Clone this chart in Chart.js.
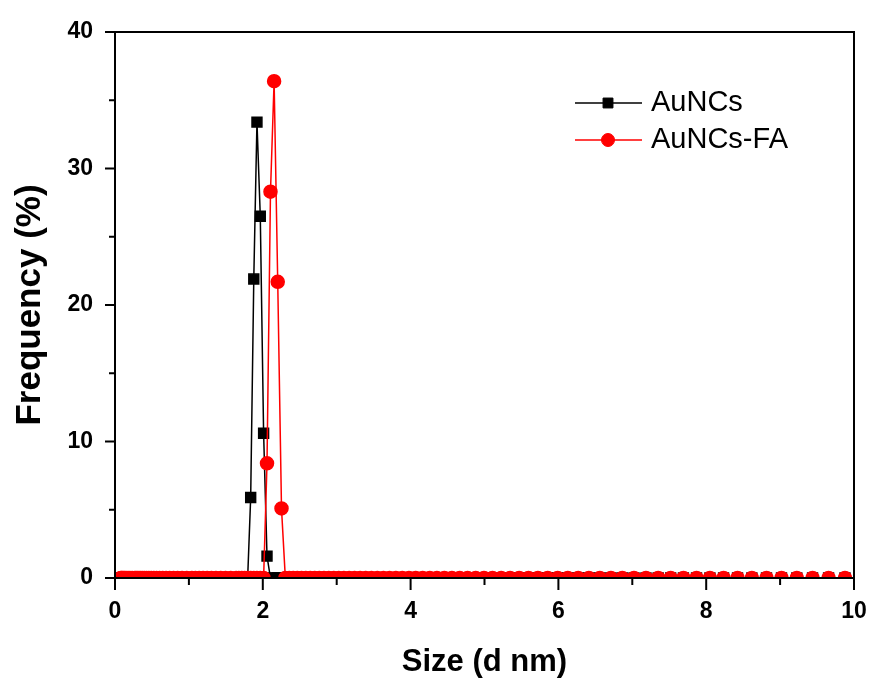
<!DOCTYPE html>
<html>
<head>
<meta charset="utf-8">
<script src="https://cdn.jsdelivr.net/npm/chart.js@4.4.0/dist/chart.umd.min.js"></script>
<style>
  html, body { margin: 0; padding: 0; background: #fff; }
  canvas { display: block; }
</style>
</head>
<body>
<canvas id="dls" width="881" height="684"></canvas>
<script>
// size bins (d nm)
var sizes = [0.078, 0.089, 0.102, 0.117, 0.134, 0.154, 0.177, 0.202, 0.232, 0.266,
    0.285, 0.305, 0.326, 0.349, 0.374, 0.400, 0.428, 0.459, 0.491, 0.526,
    0.563, 0.603, 0.645, 0.691, 0.739, 0.792, 0.847, 0.907, 0.971, 1.040,
    1.088, 1.139, 1.192, 1.247, 1.305, 1.366, 1.430, 1.496, 1.566, 1.639,
    1.676, 1.715, 1.754, 1.795, 1.836, 1.878, 1.921, 1.966, 2.011, 2.057,
    2.104, 2.153, 2.202, 2.253, 2.305, 2.358, 2.412, 2.467, 2.524, 2.582,
    2.642, 2.702, 2.765, 2.828, 2.893, 2.960, 3.028, 3.097, 3.169, 3.242,
    3.316, 3.392, 3.470, 3.550, 3.632, 3.715, 3.801, 3.888, 3.978, 4.069,
    4.163, 4.259, 4.356, 4.457, 4.559, 4.664, 4.771, 4.881, 4.993, 5.108,
    5.226, 5.346, 5.469, 5.595, 5.723, 5.855, 5.990, 6.127, 6.268, 6.412,
    6.560, 6.711, 6.865, 7.023, 7.185, 7.350, 7.519, 7.692, 7.869, 8.050,
    8.235, 8.424, 8.618, 8.816, 9.019, 9.226, 9.439, 9.656, 9.878, 10.105];

// non-zero frequencies (%), everything else is 0
var auncsSizes = [1.836, 1.878, 1.921, 1.966, 2.011, 2.057];
var auncsFreq = [5.9, 21.9, 33.4, 26.5, 10.6, 1.6];
var faSizes = [2.057, 2.104, 2.153, 2.202, 2.253];
var faFreq = [8.4, 28.3, 36.4, 21.7, 5.1];

var xMajor = [0, 2, 4, 6, 8, 10];
var xMinor = [1, 3, 5, 7, 9];
var yMajor = [0, 10, 20, 30, 40];
var yMinor = [5, 15, 25, 35];

function buildSeries(peakSizes, peakFreq) {
    var pts = [];
    sizes.forEach(function (s) {
        var i = peakSizes.indexOf(s);
        pts.push({ x: s, y: i >= 0 ? peakFreq[i] : 0 });
    });
    return pts;
}

var FONT = "'Liberation Sans', Arial, sans-serif";

// box frame, outward ticks and the legend inside the plot
var frameAndLegend = {
    id: 'frameAndLegend',
    afterDraw: function (chart) {
        var ctx = chart.ctx;
        var a = chart.chartArea;
        var x = chart.scales.x, y = chart.scales.y;
        ctx.save();
        ctx.strokeStyle = '#000';
        ctx.lineWidth = 2;
        ctx.strokeRect(a.left, a.top, a.right - a.left, a.bottom - a.top);
        ctx.beginPath();
        xMajor.forEach(function (v) { var p = x.getPixelForValue(v); ctx.moveTo(p, a.bottom); ctx.lineTo(p, a.bottom + 12); });
        xMinor.forEach(function (v) { var p = x.getPixelForValue(v); ctx.moveTo(p, a.bottom); ctx.lineTo(p, a.bottom + 7); });
        yMajor.forEach(function (v) { var p = y.getPixelForValue(v); ctx.moveTo(a.left, p); ctx.lineTo(a.left - 10, p); });
        yMinor.forEach(function (v) { var p = y.getPixelForValue(v); ctx.moveTo(a.left, p); ctx.lineTo(a.left - 6, p); });
        ctx.stroke();

        // legend
        var lx = a.right - 279, ly = a.top + 71;
        chart.data.datasets.forEach(function (ds, i) {
            var yy = ly + i * 37;
            ctx.strokeStyle = ds.borderColor;
            ctx.lineWidth = 1.5;
            ctx.beginPath();
            ctx.moveTo(lx, yy);
            ctx.lineTo(lx + 67, yy);
            ctx.stroke();
            ctx.fillStyle = ds.pointBackgroundColor;
            ctx.strokeStyle = ds.pointBorderColor;
            ctx.lineWidth = 1;
            Chart.helpers.drawPoint(ctx, {
                pointStyle: ds.pointStyle, radius: ds.pointRadius, borderWidth: 1
            }, lx + 33, yy);
            ctx.fillStyle = '#000';
            ctx.font = '29px ' + FONT;
            ctx.textBaseline = 'middle';
            ctx.textAlign = 'left';
            ctx.fillText(ds.label, lx + 76, yy);
        });
        ctx.restore();
    }
};

// invisible tick marks only push the labels away from the axis
var hiddenGrid = function (len) {
    return {
        display: true,
        drawOnChartArea: false,
        drawTicks: true,
        tickLength: len,
        tickColor: 'rgba(0,0,0,0)'
    };
};

var myChart = document.getElementById('dls').getContext('2d');
var chart = new Chart(myChart, {
    type: 'line',
    data: {
        datasets: [
            {
                label: 'AuNCs',
                data: buildSeries(auncsSizes, auncsFreq),
                borderColor: '#000000',
                backgroundColor: '#000000',
                pointBackgroundColor: '#000000',
                pointBorderColor: '#000000',
                pointStyle: 'rect',
                pointRadius: 7,
                borderWidth: 1.5,
                order: 1
            },
            {
                label: 'AuNCs-FA',
                data: buildSeries(faSizes, faFreq),
                borderColor: '#ff0000',
                backgroundColor: '#ff0000',
                pointBackgroundColor: '#ff0000',
                pointBorderColor: '#ff0000',
                pointStyle: 'circle',
                pointRadius: 6.5,
                borderWidth: 1.5,
                order: 0
            }
        ]
    },
    options: {
        responsive: false,
        animation: false,
        devicePixelRatio: 1,
        clip: 0,
        layout: { padding: { left: 0, top: 32, right: 27, bottom: 0 } },
        elements: { line: { tension: 0 }, point: { borderWidth: 1, hoverRadius: 6 } },
        plugins: { legend: { display: false }, tooltip: { enabled: false } },
        scales: {
            x: {
                type: 'linear',
                min: 0,
                max: 10,
                grid: hiddenGrid(20),
                border: { display: false },
                ticks: {
                    stepSize: 2,
                    padding: 0,
                    color: '#000',
                    font: { family: FONT, size: 23, weight: 'bold' }
                },
                title: {
                    display: true,
                    text: 'Size (d nm)',
                    color: '#000',
                    padding: { top: 0, bottom: 3 },
                    font: { family: FONT, size: 31, weight: 'bold' }
                },
                afterFit: function (scale) { scale.height = 106; }
            },
            y: {
                min: 0,
                max: 40,
                grid: hiddenGrid(22),
                border: { display: false },
                ticks: {
                    stepSize: 10,
                    padding: 0,
                    color: '#000',
                    font: { family: FONT, size: 23, weight: 'bold' }
                },
                title: {
                    display: true,
                    text: 'Frequency (%)',
                    color: '#000',
                    padding: { top: 9, bottom: 0 },
                    font: { family: FONT, size: 35, weight: 'bold' }
                },
                afterFit: function (scale) { scale.width = 115; }
            }
        }
    },
    plugins: [frameAndLegend]
});
</script>
</body>
</html>
